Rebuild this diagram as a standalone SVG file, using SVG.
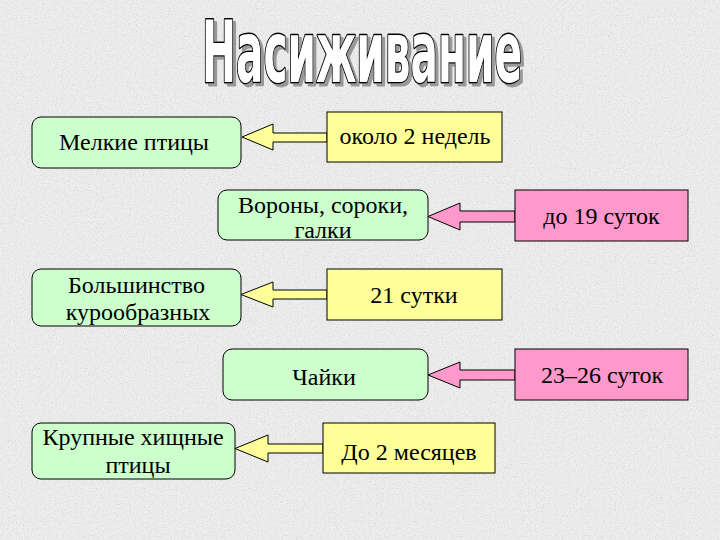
<svg xmlns="http://www.w3.org/2000/svg" width="720" height="540" viewBox="0 0 720 540">
  <defs>
    <filter id="grain" x="0" y="0" width="100%" height="100%">
      <feTurbulence type="fractalNoise" baseFrequency="0.85" numOctaves="2" seed="3" result="n"/>
      <feColorMatrix in="n" type="matrix" values="0 0 0 0 0.6  0 0 0 0 0.6  0 0 0 0 0.6  1.6 0 0 0 -0.75"/>
    </filter>
    <filter id="shadow" filterUnits="userSpaceOnUse" x="150" y="0" width="440" height="110">
      <feOffset in="SourceAlpha" dx="3" dy="3" result="o"/>
      <feFlood flood-color="#999999"/>
      <feComposite in2="o" operator="in" result="s"/>
      <feMerge>
        <feMergeNode in="s"/>
        <feMergeNode in="SourceGraphic"/>
      </feMerge>
    </filter>
    <style>
      .green { fill: #ccffcc; stroke: #000; stroke-width: 1; }
      .yellow { fill: #ffff99; stroke: #000; stroke-width: 1; }
      .pink { fill: #ff99cc; stroke: #000; stroke-width: 1; }
      .lbl { font-family: "Liberation Serif", "Times New Roman", serif; font-size: 24px; fill: #000; text-anchor: middle; }
      .title { font-family: "DejaVu Sans Condensed", "DejaVu Sans", sans-serif; font-weight: bold; font-size: 85px; fill: #ffffff; stroke: #000; stroke-width: 3; paint-order: stroke; stroke-linejoin: round; }
    </style>
  </defs>

  <rect width="720" height="540" fill="#ededed"/>
  <rect width="720" height="540" filter="url(#grain)"/>

  <g id="title" filter="url(#shadow)">
    <text class="title" x="202" y="82" textLength="320" lengthAdjust="spacingAndGlyphs">Насиживание</text>
  </g>

  <g id="connectors">
    <polygon class="yellow" points="242,137 273,124 273,133 327,133 327,142 273,142 273,150"/>
    <polygon class="pink" points="428,216.5 460,203 460,211 515,211 515,222 460,222 460,230"/>
    <polygon class="yellow" points="241,294.5 273,282 273,290 327,290 327,299 273,299 273,307"/>
    <polygon class="pink" points="428,375 460,362 460,370 515,370 515,380 460,380 460,388"/>
    <polygon class="yellow" points="235,448.5 268,435 268,444 323,444 323,453 268,453 268,462"/>
  </g>

  <g id="n-melkie">
    <rect class="green" x="32" y="117" width="209" height="51" rx="9"/>
    <text class="lbl" x="134" y="150">Мелкие птицы</text>
  </g>
  <g id="n-2weeks">
    <rect class="yellow" x="327" y="112" width="175" height="50"/>
    <text class="lbl" x="415" y="144">около 2 недель</text>
  </g>
  <g id="n-vorony">
    <rect class="green" x="218" y="190" width="210" height="50" rx="9"/>
    <text class="lbl" x="323" y="213">Вороны, сороки,</text>
    <text class="lbl" x="323" y="238">галки</text>
  </g>
  <g id="n-19">
    <rect class="pink" x="515" y="190" width="173" height="51"/>
    <text class="lbl" x="601.5" y="224">до 19 суток</text>
  </g>
  <g id="n-kuro">
    <rect class="green" x="32" y="269" width="209" height="57" rx="9"/>
    <text class="lbl" x="136.5" y="293">Большинство</text>
    <text class="lbl" x="138" y="320">курообразных</text>
  </g>
  <g id="n-21">
    <rect class="yellow" x="327" y="269" width="175" height="51"/>
    <text class="lbl" x="414" y="303">21 сутки</text>
  </g>
  <g id="n-chaiki">
    <rect class="green" x="223" y="349" width="205" height="51" rx="9"/>
    <text class="lbl" x="324" y="385">Чайки</text>
  </g>
  <g id="n-2326">
    <rect class="pink" x="515" y="349" width="173" height="51"/>
    <text class="lbl" x="602" y="383">23–26 суток</text>
  </g>
  <g id="n-krupnye">
    <rect class="green" x="32" y="423" width="203" height="56" rx="9"/>
    <text class="lbl" x="133" y="445">Крупные хищные</text>
    <text class="lbl" x="138" y="473">птицы</text>
  </g>
  <g id="n-2months">
    <rect class="yellow" x="323" y="423" width="172" height="50"/>
    <text class="lbl" x="409" y="460">До 2 месяцев</text>
  </g>
</svg>
